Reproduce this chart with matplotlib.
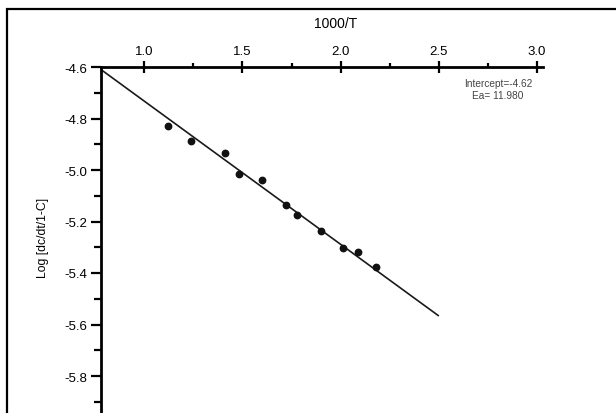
import matplotlib
matplotlib.use("Agg")
import matplotlib.pyplot as plt
from matplotlib.patches import Rectangle
from matplotlib.ticker import MultipleLocator, FormatStrFormatter

plt.rcParams['font.family'] = ['Liberation Sans', 'DejaVu Sans']

# Measured points: 1000/T vs Log[dc/dt/1-C]
inv_temp = [1.12, 1.24, 1.41, 1.48, 1.60, 1.72, 1.78, 1.90, 2.01, 2.09, 2.18]
log_rate = [-4.828, -4.886, -4.935, -5.016, -5.037, -5.134, -5.174, -5.236,
            -5.301, -5.318, -5.377]

# Linear fit line end points
fit_x = [0.78, 2.50]
fit_y = [-4.61, -5.567]

intercept = -4.62
ea = 11.980

W, H = 616, 414
fig = plt.figure(figsize=(W / 100, H / 100), dpi=100)

# outer frame around the figure (runs off the right and bottom edge)
frame = Rectangle((7 / W, -0.2), 1.3, 1.2 - 10 / H, transform=fig.transFigure,
                  fill=False, lw=1.6, ec='black', clip_on=False)
fig.patches.append(frame)

ymin, ymax = -5.955, -4.6
px_per_unit = (377 - 68) / 1.2
ax_h = (ymax - ymin) * px_per_unit
ax = fig.add_axes([101 / W, (H - 68 - ax_h) / H, (543 - 101) / W, ax_h / H])

ax.plot(fit_x, fit_y, color='#1a1a1a', lw=1.2, solid_capstyle='butt')
ax.plot(inv_temp, log_rate, 'o', color='#111111', ms=4.6, mec='#111111')

ax.set_xlim(0.78, 3.03)
ax.set_ylim(ymin, ymax)

for s in ('right', 'bottom'):
    ax.spines[s].set_visible(False)
for s in ('left', 'top'):
    ax.spines[s].set_linewidth(2.0)

ax.xaxis.tick_top()
ax.xaxis.set_major_locator(MultipleLocator(0.5))
ax.xaxis.set_minor_locator(MultipleLocator(0.25))
ax.yaxis.set_major_locator(MultipleLocator(0.2))
ax.yaxis.set_minor_locator(MultipleLocator(0.1))
ax.xaxis.set_major_formatter(FormatStrFormatter('%.1f'))
ax.yaxis.set_major_formatter(FormatStrFormatter('%.1f'))

ax.tick_params(axis='x', which='major', direction='inout', length=9, width=1.6,
               pad=3, labelsize=9.5)
ax.tick_params(axis='x', which='minor', direction='out', length=3, width=1.6)
ax.tick_params(axis='y', which='major', direction='out', length=7, width=1.6,
               pad=3, labelsize=9.5)
ax.tick_params(axis='y', which='minor', direction='out', length=5, width=1.6)

fig.text(336 / W, 1 - 24 / H, '1000/T', ha='center', va='center', fontsize=10)
fig.text(43 / W, 1 - 238 / H, 'Log [dc/dt/1-C]', ha='center', va='center',
         rotation=90, fontsize=8.8)

ax.text(498 / W, 1 - 90 / H, f'Intercept={intercept:.2f}\nEa= {ea:.3f}',
        transform=fig.transFigure, ha='center', va='center', fontsize=7.3,
        color='#444444', linespacing=1.15)

fig.savefig('out.png', dpi=100)
